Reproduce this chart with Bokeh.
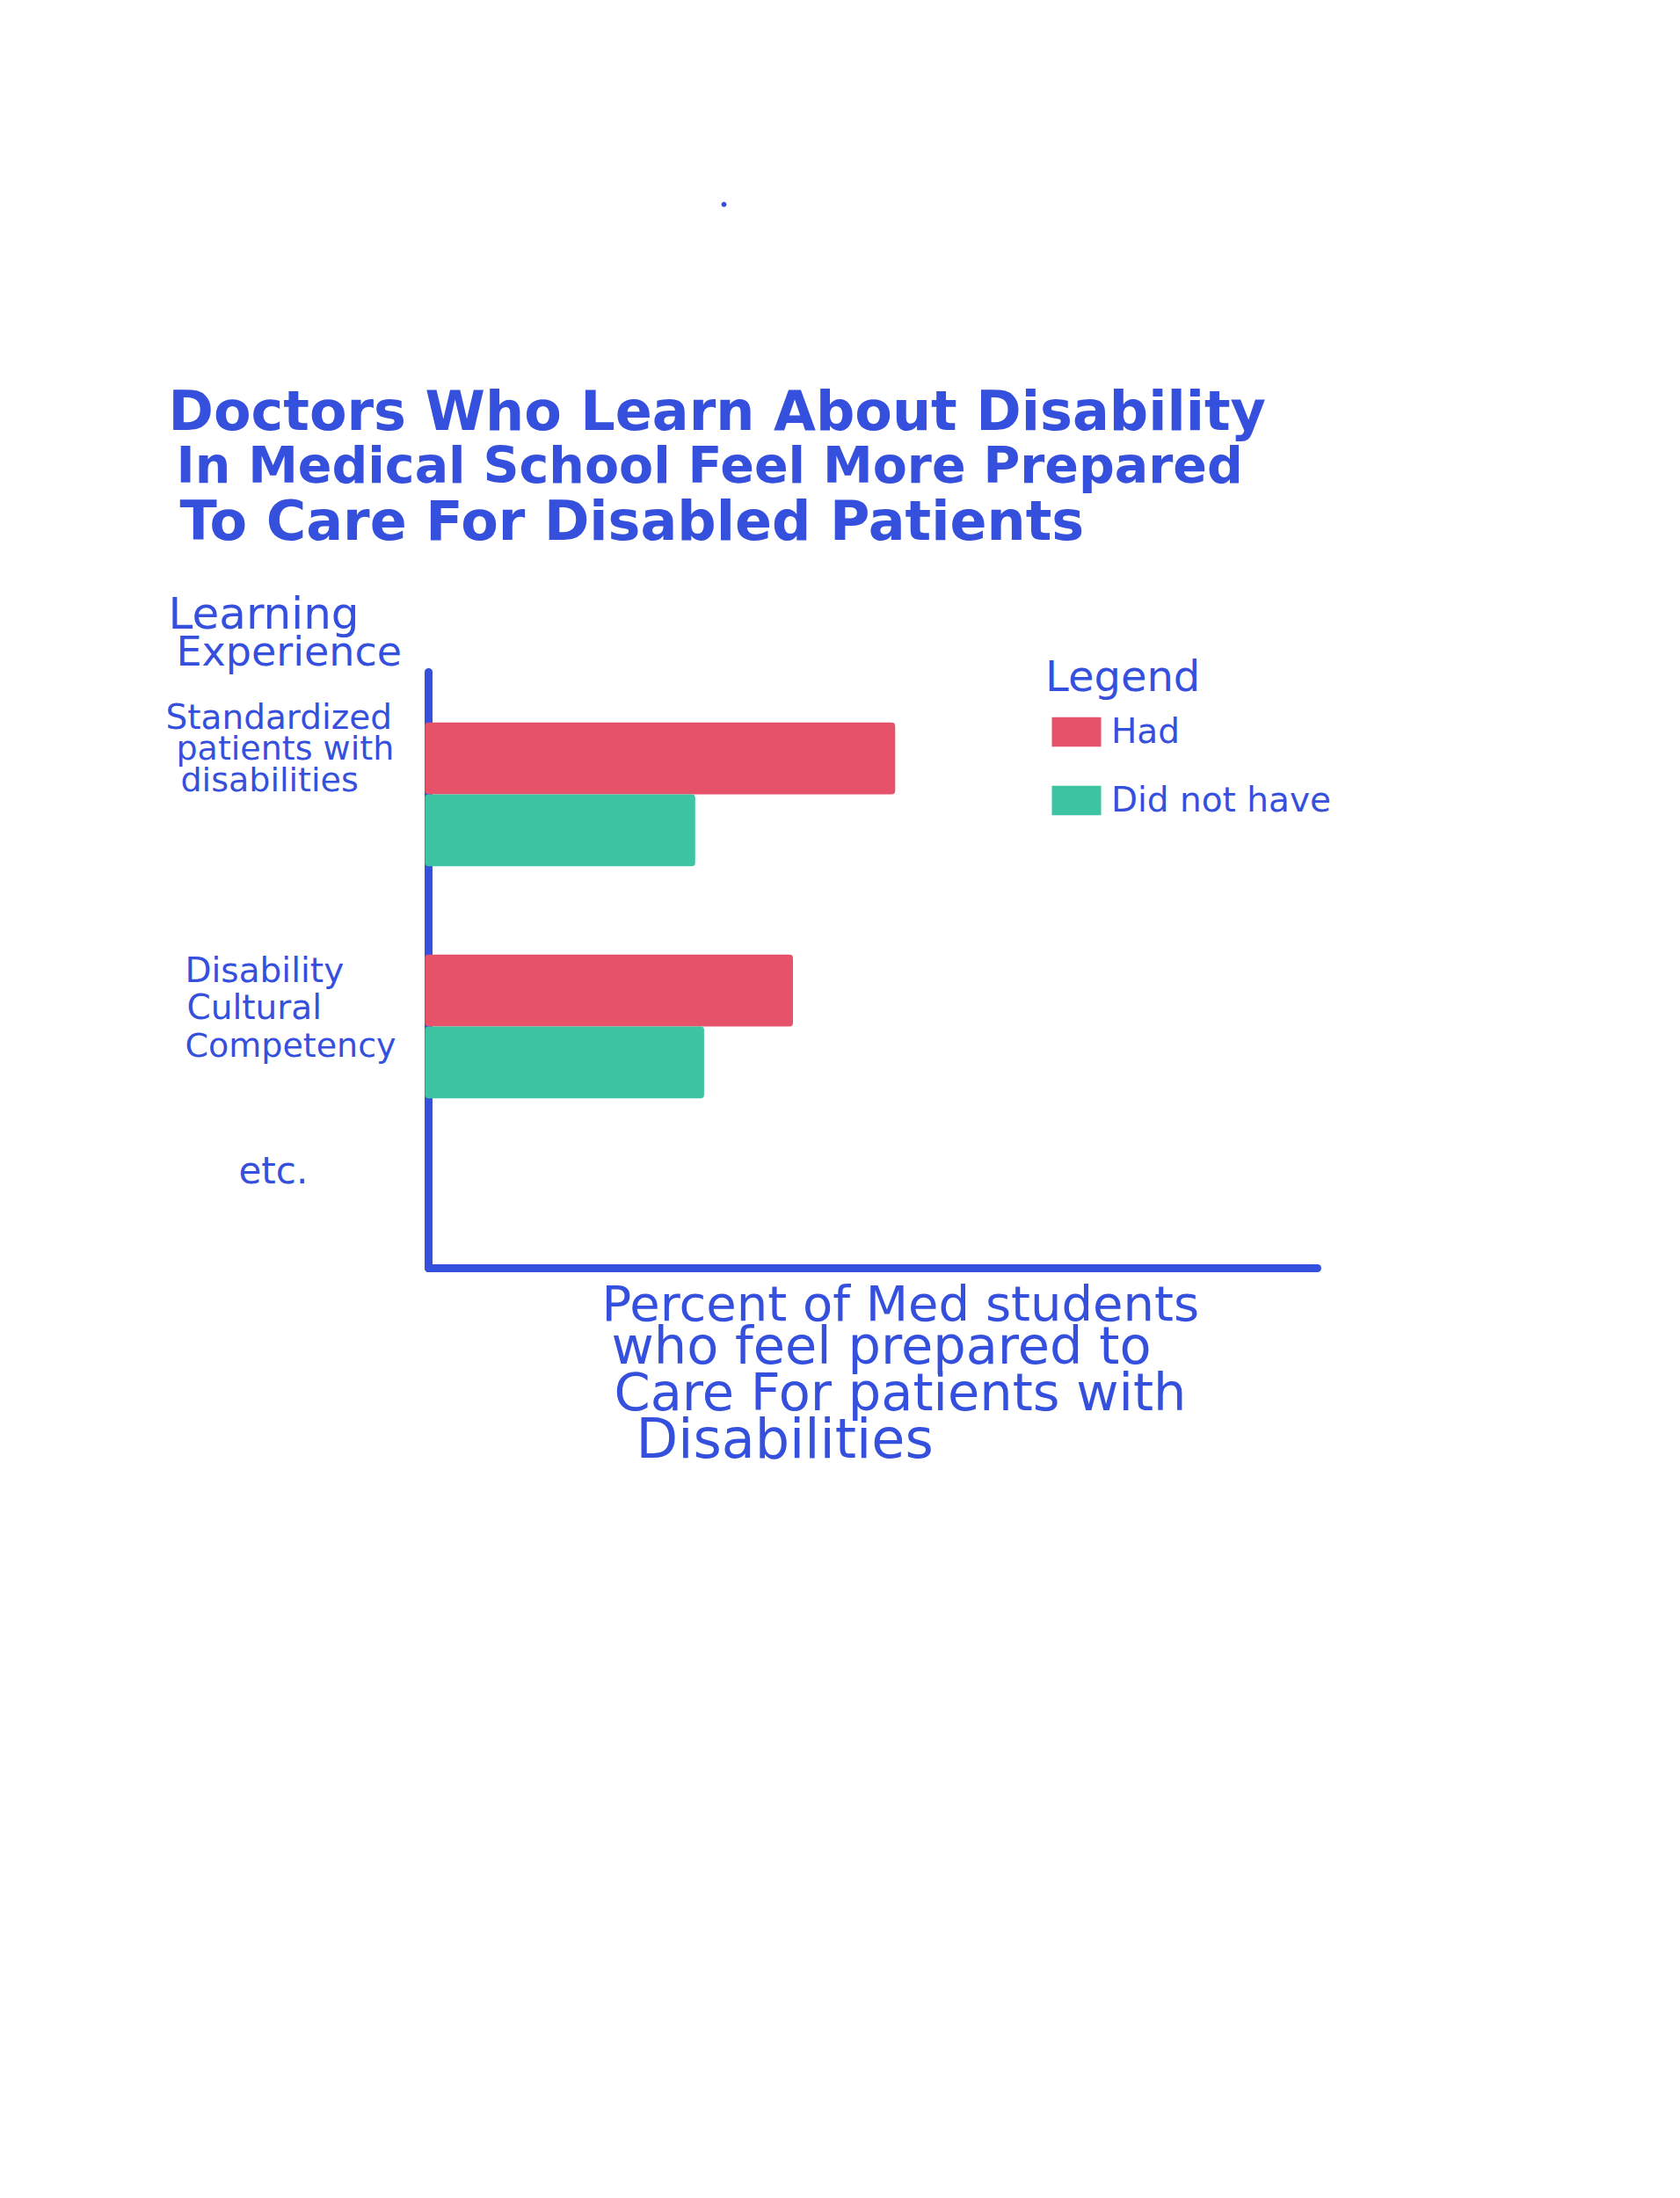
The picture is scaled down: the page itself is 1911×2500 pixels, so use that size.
from bokeh.plotting import figure
from bokeh.models import Range1d, Legend, LegendItem, ColumnDataSource
from bokeh.core.properties import value
from bokeh.embed import file_html
from bokeh.resources import INLINE

# ---- data ----
experiences = ["Standardized patients with disabilities", "Disability Cultural Competency"]
had = [52.5, 41]
did_not_have = [30, 31]
series_names = ["Had", "Did not have"]
title_lines = ["Doctors Who Learn About Disability",
               "In Medical School Feel More Prepared",
               "To Care For Disabled Patients"]
y_title_lines = ["Learning", "Experience"]
cat_label_lines = [["Standardized", "patients with", "disabilities"],
                   ["Disability", "Cultural", "Competency"],
                   ["etc."]]
x_title_lines = ["Percent of Med students", "who feel prepared to",
                 "Care For patients with", "Disabilities"]

BLUE = "#3550DC"
RED = "#E5526A"
GREEN = "#3DC4A2"
FONT = "DejaVu Sans"

W, H = 1911, 2500
# pixel <-> data helpers (frame covers whole canvas)
X0, XS = 487.0, 10.11     # px of 0 %, px per %
Y0, YS = 903.0, 264.0     # px of first group, px per group

def X(px):
    return (px - X0) / XS

def Y(py):
    return (py - Y0) / YS

p = figure(width=W, height=H, output_backend="svg", toolbar_location=None,
           x_range=Range1d(X(0), X(W)), y_range=Range1d(Y(H), Y(0)),
           min_border=0, min_border_left=0, min_border_right=0,
           min_border_top=0, min_border_bottom=0)
p.axis.visible = False
p.grid.visible = False
p.outline_line_color = None
p.background_fill_color = "white"
p.border_fill_color = "white"

# axes lines
pos = list(range(len(experiences)))
axis_bottom = Y(1442)
axis_top = Y(764)
p.line(x=[0, 0], y=[axis_top, axis_bottom], line_color=BLUE, line_width=9, line_cap="round")
p.line(x=[0, 100], y=[axis_bottom, axis_bottom], line_color=BLUE, line_width=9, line_cap="round")

dodge = 0.155
bh = 0.31
r_had = p.hbar(y=[v - dodge for v in pos], left=X(483), right=had, height=bh,
               fill_color=RED, line_color=None, border_radius=4)
r_not = p.hbar(y=[v + dodge for v in pos], left=X(483), right=did_not_have, height=bh,
               fill_color=GREEN, line_color=None, border_radius=4)

def txt(rows, style="normal"):
    src = ColumnDataSource(dict(x=[X(r[0]) for r in rows], y=[Y(r[1]) for r in rows],
                                text=[r[2] for r in rows], size=[r[3] for r in rows]))
    p.text(x="x", y="y", text="text", source=src, text_font=value(FONT),
           text_font_size="size", text_color=BLUE, text_baseline="middle",
           text_align="left", text_font_style=style)

# title
txt([(191, 467, title_lines[0], "62px"), (200, 528, title_lines[1], "57px"),
     (204, 592, title_lines[2], "62px")], "bold")
# y title
txt([(191, 697, y_title_lines[0], "50px"), (200, 740, y_title_lines[1], "46px")])
# category labels
txt([(188, 815, cat_label_lines[0][0], "39px"), (200, 850, cat_label_lines[0][1], "38px"),
     (205, 886, cat_label_lines[0][2], "38px")])
txt([(210, 1103, cat_label_lines[1][0], "39px"), (212, 1145, cat_label_lines[1][1], "39px"),
     (210, 1188, cat_label_lines[1][2], "38px")])
txt([(271, 1331, cat_label_lines[2][0], "42px")])
# x title
txt([(684, 1482, x_title_lines[0], "56px"), (695, 1530, x_title_lines[1], "59px"),
     (698, 1583, x_title_lines[2], "59px"), (723, 1636, x_title_lines[3], "62px")])

# stray dot
p.scatter(x=[X(823)], y=[Y(232)], size=5, color=BLUE)

legend = Legend(items=[LegendItem(label=series_names[0], renderers=[r_had]),
                       LegendItem(label=series_names[1], renderers=[r_not])],
                title="Legend", location=(1189, H - 932),
                glyph_width=70, glyph_height=42, label_height=42,
                spacing=33, padding=0, margin=0, label_standoff=5,
                title_text_font=FONT, title_text_font_size="48px", title_text_color=BLUE,
                title_text_font_style="normal", title_standoff=12,
                label_text_font=FONT, label_text_font_size="39px", label_text_color=BLUE,
                border_line_color=None, background_fill_alpha=0)
p.add_layout(legend)

open("out.html", "w").write(file_html(p, INLINE))
